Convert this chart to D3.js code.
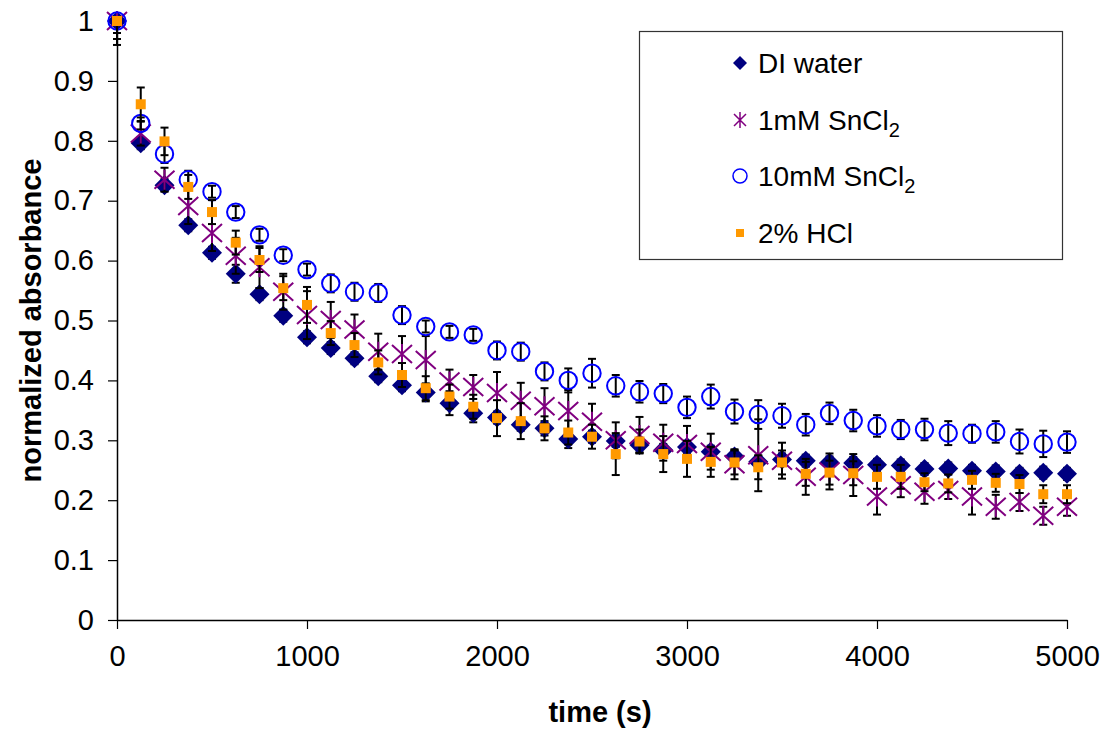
<!DOCTYPE html>
<html>
<head>
<meta charset="utf-8">
<script src="https://cdn.jsdelivr.net/npm/d3@7"></script>
<style>
  body { margin: 0; background: #fff; }
  text { font-family: Arial, "Liberation Sans", sans-serif; }
</style>
</head>
<body>
<svg class="s1" width="1101" height="730"></svg>
<script>

	// time points (s)
	var times = [0, 125, 250, 375, 500, 625, 750, 875, 1000, 1125,
		1250, 1375, 1500, 1625, 1750, 1875, 2000, 2125, 2250, 2375,
		2500, 2625, 2750, 2875, 3000, 3125, 3250, 3375, 3500, 3625,
		3750, 3875, 4000, 4125, 4250, 4375, 4500, 4625, 4750, 4875, 5000];

	var diWater = [1.0, 0.796, 0.726, 0.659, 0.613, 0.578, 0.544, 0.508, 0.472, 0.454,
		0.437, 0.407, 0.392, 0.380, 0.362, 0.345, 0.338, 0.326, 0.320, 0.302,
		0.306, 0.299, 0.292, 0.284, 0.289, 0.281, 0.273, 0.264, 0.268, 0.266,
		0.263, 0.262, 0.259, 0.258, 0.252, 0.253, 0.249, 0.248, 0.244, 0.246, 0.244];
	var diWaterErr = [0.04, 0.01, 0.01, 0.01, 0.01, 0.015, 0.01, 0.01, 0.01, 0.01,
		0.01, 0.01, 0.01, 0.015, 0.02, 0.015, 0.01, 0.01, 0.012, 0.015,
		0.01, 0.01, 0.012, 0.01, 0.01, 0.01, 0.01, 0.01, 0.01, 0.01,
		0.01, 0.01, 0.01, 0.01, 0.01, 0.01, 0.01, 0.01, 0.01, 0.01, 0.01];

	var sn1 = [1.0, 0.812, 0.735, 0.691, 0.646, 0.608, 0.589, 0.548, 0.509, 0.501,
		0.485, 0.448, 0.444, 0.434, 0.398, 0.389, 0.379, 0.366, 0.357, 0.349,
		0.331, 0.300, 0.309, 0.296, 0.294, 0.281, 0.260, 0.275, 0.266, 0.239,
		0.248, 0.242, 0.206, 0.225, 0.214, 0.217, 0.206, 0.189, 0.197, 0.174, 0.189];
	var sn1Err = [0.03, 0.02, 0.02, 0.03, 0.03, 0.03, 0.035, 0.03, 0.04, 0.03,
		0.025, 0.03, 0.03, 0.04, 0.02, 0.02, 0.035, 0.03, 0.03, 0.035,
		0.03, 0.03, 0.03, 0.03, 0.03, 0.03, 0.025, 0.06, 0.03, 0.03,
		0.03, 0.035, 0.03, 0.02, 0.02, 0.015, 0.03, 0.02, 0.015, 0.015, 0.015];

	var sn10 = [1.0, 0.829, 0.778, 0.735, 0.715, 0.681, 0.643, 0.609, 0.585, 0.562,
		0.548, 0.546, 0.509, 0.490, 0.481, 0.476, 0.450, 0.448, 0.415, 0.400,
		0.412, 0.391, 0.381, 0.378, 0.355, 0.373, 0.348, 0.343, 0.341, 0.326,
		0.345, 0.333, 0.324, 0.318, 0.318, 0.312, 0.311, 0.314, 0.298, 0.294, 0.297];
	var sn10Err = [0.02, 0.01, 0.015, 0.015, 0.01, 0.01, 0.01, 0.01, 0.01, 0.015,
		0.015, 0.015, 0.015, 0.01, 0.01, 0.01, 0.015, 0.015, 0.015, 0.02,
		0.024, 0.018, 0.018, 0.016, 0.018, 0.02, 0.02, 0.024, 0.02, 0.018,
		0.018, 0.018, 0.018, 0.016, 0.018, 0.02, 0.015, 0.018, 0.02, 0.022, 0.018];

	var hcl = [1.0, 0.861, 0.799, 0.723, 0.681, 0.630, 0.601, 0.554, 0.526, 0.479,
		0.459, 0.430, 0.409, 0.387, 0.373, 0.356, 0.337, 0.332, 0.320, 0.313,
		0.306, 0.277, 0.298, 0.277, 0.269, 0.264, 0.263, 0.255, 0.263, 0.244,
		0.246, 0.245, 0.239, 0.239, 0.230, 0.228, 0.234, 0.229, 0.227, 0.210, 0.210];
	var hclErr = [0.03, 0.028, 0.023, 0.02, 0.02, 0.02, 0.02, 0.02, 0.03, 0.02,
		0.02, 0.02, 0.02, 0.02, 0.02, 0.02, 0.03, 0.03, 0.02, 0.02,
		0.02, 0.035, 0.02, 0.03, 0.03, 0.025, 0.02, 0.02, 0.02, 0.02,
		0.02, 0.02, 0.02, 0.02, 0.015, 0.015, 0.015, 0.015, 0.015, 0.015, 0.015];

	var xTicks = [0, 1000, 2000, 3000, 4000, 5000];
	var yTicks = [0, 0.1, 0.2, 0.3, 0.4, 0.5, 0.6, 0.7, 0.8, 0.9, 1];

	var series = [
		{id: "DI water", sub: "", values: diWater, err: diWaterErr, shape: "diamond"},
		{id: "1mM SnCl", sub: "2", values: sn1, err: sn1Err, shape: "asterisk"},
		{id: "10mM SnCl", sub: "2", values: sn10, err: sn10Err, shape: "circle"},
		{id: "2% HCl", sub: "", values: hcl, err: hclErr, shape: "square"}
	];

	var svg = d3.select("svg.s1"),
		margin = {top: 21, right: 34, bottom: 110, left: 117},
		width = +svg.attr("width") - margin.left - margin.right,
		height = +svg.attr("height") - margin.top - margin.bottom,
		g = svg.append("g").attr("transform", "translate(" + margin.left + "," + margin.top + ")");

	var x = d3.scaleLinear().domain([0, 5000]).range([0, width]),
		y = d3.scaleLinear().domain([0, 1]).range([height, 0]);

	// axes
	g.append("g")
		.attr("class", "axis axis--x")
		.attr("transform", "translate(0," + height + ")")
		.call(d3.axisBottom(x).tickValues(xTicks).tickFormat(d3.format("d")).tickSize(9).tickSizeOuter(0).tickPadding(16));

	g.append("g")
		.attr("class", "axis axis--y")
		.call(d3.axisLeft(y).tickValues(yTicks).tickFormat(function(d) { return d === 0 || d === 1 ? d : d3.format(".1f")(d); }).tickSize(9).tickSizeOuter(0).tickPadding(14));

	svg.selectAll(".axis path").attr("stroke", "#000").attr("stroke-width", 1.5);
	svg.selectAll(".axis line").attr("stroke", "#000").attr("stroke-width", 1.2);
	svg.selectAll(".axis text")
		.attr("fill", "#000")
		.style("font-size", "29px")
		.style("font-family", "Arial, 'Liberation Sans', sans-serif");

	// axis titles
	svg.append("text")
		.attr("x", margin.left + width / 2 + 8)
		.attr("y", 722)
		.attr("text-anchor", "middle")
		.style("font-size", "29px")
		.style("font-weight", "bold")
		.text("time (s)");

	svg.append("text")
		.attr("transform", "translate(41," + (margin.top + height / 2) + ") rotate(-90)")
		.attr("text-anchor", "middle")
		.style("font-size", "29px")
		.style("font-weight", "bold")
		.text("normalized absorbance");

	// marker drawing
	function drawMarker(sel, shape) {
		if (shape == "diamond") {
			sel.append("path")
				.attr("d", "M0,-10L10,0L0,10L-10,0Z")
				.attr("fill", "#000080");
		} else if (shape == "square") {
			sel.append("rect")
				.attr("x", -5).attr("y", -5)
				.attr("width", 10).attr("height", 10)
				.attr("fill", "#FF9900");
		} else if (shape == "circle") {
			sel.append("circle")
				.attr("r", 8.7)
				.attr("fill", "none")
				.attr("stroke", "#0000FF")
				.attr("stroke-width", 2);
		} else {
			sel.append("path")
				.attr("d", "M-10,-9L10,9M-10,9L10,-9M0,-10L0,10")
				.attr("fill", "none")
				.attr("stroke", "#800080")
				.attr("stroke-width", 2);
		}
	}

	series.forEach(function(s) {
		var pts = times.map(function(t, i) {
			return {t: t, v: s.values[i], e: s.err[i]};
		});

		var sg = g.append("g").attr("class", "series");

		// error bars
		var eb = sg.selectAll(".err")
			.data(pts)
			.enter().append("g")
			.attr("class", "err")
			.attr("stroke", "#000")
			.attr("stroke-width", 2);

		eb.append("line")
			.attr("x1", function(d) { return x(d.t); })
			.attr("x2", function(d) { return x(d.t); })
			.attr("y1", function(d) { return y(Math.min(1, d.v + d.e)); })
			.attr("y2", function(d) { return y(d.v - d.e); });

		eb.append("line")
			.attr("x1", function(d) { return x(d.t) - 4; })
			.attr("x2", function(d) { return x(d.t) + 4; })
			.attr("y1", function(d) { return y(d.v - d.e); })
			.attr("y2", function(d) { return y(d.v - d.e); });

		eb.filter(function(d) { return d.v + d.e <= 1; })
			.append("line")
			.attr("x1", function(d) { return x(d.t) - 4; })
			.attr("x2", function(d) { return x(d.t) + 4; })
			.attr("y1", function(d) { return y(d.v + d.e); })
			.attr("y2", function(d) { return y(d.v + d.e); });

		// markers
		var mk = sg.selectAll(".mk")
			.data(pts)
			.enter().append("g")
			.attr("class", "mk")
			.attr("transform", function(d) { return "translate(" + x(d.t) + "," + y(d.v) + ")"; });
		drawMarker(mk, s.shape);
	});

	// legend
	var legend = svg.append("g").attr("class", "legend");
	legend.append("rect")
		.attr("x", 639.5).attr("y", 31.5)
		.attr("width", 423).attr("height", 228)
		.attr("fill", "#fff")
		.attr("stroke", "#333")
		.attr("stroke-width", 1.2);

	var rowY = [63, 120, 176, 233];
	var item = legend.selectAll(".item")
		.data(series)
		.enter().append("g")
		.attr("class", "item")
		.attr("transform", function(d, i) { return "translate(740," + rowY[i] + ")"; });

	item.each(function(d) {
		var sel = d3.select(this);
		if (d.shape == "diamond") {
			sel.append("path").attr("d", "M0,-7L7,0L0,7L-7,0Z").attr("fill", "#000080");
		} else if (d.shape == "square") {
			sel.append("rect").attr("x", -4).attr("y", -4).attr("width", 8).attr("height", 8).attr("fill", "#FF9900");
		} else if (d.shape == "circle") {
			sel.append("circle").attr("r", 7).attr("fill", "none").attr("stroke", "#0000FF").attr("stroke-width", 1.5);
		} else {
			sel.append("path").attr("d", "M-6,-6L6,6M-6,6L6,-6M0,-8L0,8").attr("fill", "none").attr("stroke", "#800080").attr("stroke-width", 1.5);
		}
		var t = sel.append("text")
			.attr("x", 18)
			.attr("y", 10)
			.style("font-size", "28px")
			.text(d.id);
		if (d.sub) {
			t.append("tspan")
				.attr("dy", 7)
				.style("font-size", "20px")
				.text(d.sub);
		}
	});

</script>
</body>
</html>
